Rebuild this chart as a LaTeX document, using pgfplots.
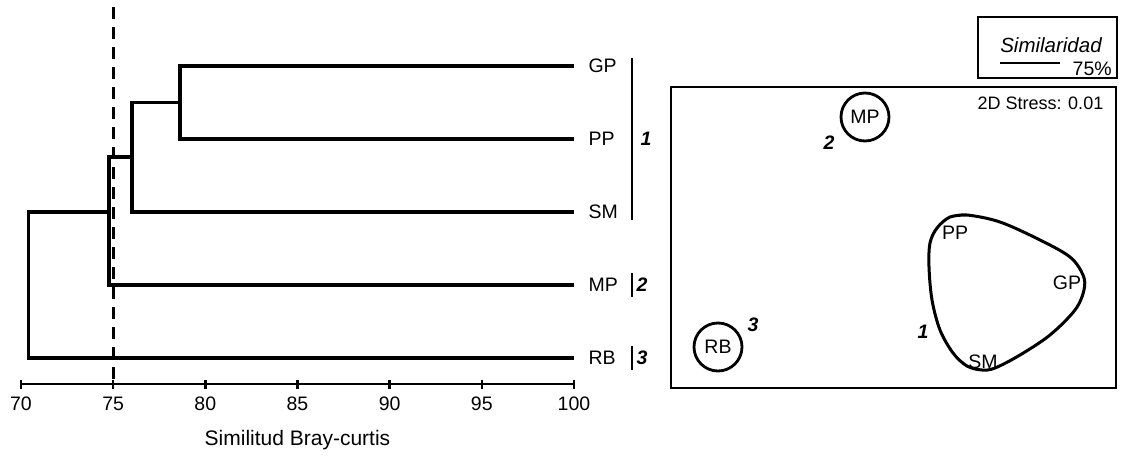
\documentclass[border=0pt]{standalone}
\usepackage{fontspec}
\setmainfont{Liberation Sans}
\usepackage{pgfplots}
\pgfplotsset{compat=1.18}
\newcommand{\fs}{\fontsize{19.5}{22}\selectfont}
\newcommand{\fsl}{\fontsize{21}{24}\selectfont}
\newcommand{\fss}{\fontsize{18}{21}\selectfont}
\begin{document}
\begin{tikzpicture}[font=\fs]
\path[use as bounding box] (0pt,0pt) rectangle (1121pt,461pt);
% ---------------- Dendrogram ----------------
\begin{axis}[
  at={(21pt,77pt)}, anchor=south west, scale only axis,
  width=553pt, height=384pt,
  xmin=70, xmax=100, ymin=77, ymax=461,
  axis x line=bottom, axis y line=none,
  x axis line style={-, line width=2.6pt},
  xtick={70,75,80,85,90,95,100},
  tick align=center, major tick length=9pt,
  every tick/.style={black, line width=2.6pt},
  xticklabel style={font=\fs, yshift=-5pt},
  /pgf/number format/assume math mode=true,
  xlabel={Similitud Bray-curtis},
  xlabel style={at={(axis description cs:0.5,0)}, anchor=center, yshift=-56pt, font=\fsl},
  clip=false,
]
\addplot[line width=3.3pt] coordinates {(100,395)(78.63,395)(78.63,322)(100,322)};
\addplot[line width=3.3pt] coordinates {(78.63,358.5)(76.02,358.5)(76.02,249)(100,249)};
\addplot[line width=3.3pt] coordinates {(76.02,304)(74.77,304)(74.77,176)(100,176)};
\addplot[line width=3.3pt] coordinates {(74.77,249)(70.42,249)(70.42,103)(100,103)};
\addplot[line width=3.1pt, dash pattern=on 12pt off 8pt] coordinates {(75,454)(75,74)};
% group bars
\addplot[line width=2.8pt] coordinates {(103.15,403)(103.15,241)};
\addplot[line width=2.8pt] coordinates {(103.15,188)(103.15,164)};
\addplot[line width=2.8pt] coordinates {(103.15,115)(103.15,91)};
\node[anchor=west, xshift=11pt] at (axis cs:100,395) {GP};
\node[anchor=west, xshift=11pt] at (axis cs:100,322) {PP};
\node[anchor=west, xshift=11pt] at (axis cs:100,249) {SM};
\node[anchor=west, xshift=11pt] at (axis cs:100,176) {MP};
\node[anchor=west, xshift=11pt] at (axis cs:100,103) {RB};
\node[anchor=west, xshift=5pt] at (axis cs:103.15,322) {\bfseries\itshape 1};
\node[anchor=west, xshift=1pt] at (axis cs:103.15,176) {\bfseries\itshape 2};
\node[anchor=west, xshift=1pt] at (axis cs:103.15,103) {\bfseries\itshape 3};
\end{axis}
% ---------------- NMDS ----------------
\begin{axis}[
  at={(671pt,73pt)}, anchor=south west, scale only axis,
  width=445pt, height=301pt,
  xmin=671, xmax=1116, ymin=73, ymax=374,
  ticks=none, line width=2.8pt, axis line style={line width=2.8pt},
  clip=false,
]
\addplot[smooth, tension=0.55, line width=3pt] coordinates {
 (950,244)(967,246)(1000,239)(1040,221)(1070,204)(1083,186)(1084,171)(1075,151)
 (1050,126)(1020,106)(995,93)(982,91)(967,95)(953,108)(940,131)(932,161)
 (929,194)(930,218)(937,233)(950,244)(967,246)};
\addplot[only marks, mark=o, mark size=24pt, mark options={line width=2.8pt},
  nodes near coords, point meta=explicit symbolic,
  every node near coord/.style={anchor=center, font=\fs, black}]
  coordinates {(865,344)[MP] (718,114)[RB]};
\addplot[only marks, mark=none,
  nodes near coords, point meta=explicit symbolic,
  every node near coord/.style={anchor=center, font=\fs, black}]
  coordinates {(955,228)[PP] (1067,178)[GP] (983,99)[SM]};
\node at (axis cs:923,129) {\bfseries\itshape 1};
\node at (axis cs:829,318) {\bfseries\itshape 2};
\node at (axis cs:753,136) {\bfseries\itshape 3};
\node[anchor=east, font=\fss] at (axis cs:1108,358) {2D Stress: 0.01};
\draw[line width=2.8pt] (axis cs:978,383) rectangle (axis cs:1117,444);
\node at (axis cs:1051,416) {\fontsize{20.5}{23}\selectfont\itshape Similaridad};
\draw[line width=2.8pt] (axis cs:1000,398) -- (axis cs:1060,398);
\node[anchor=west] at (axis cs:1068,392) {75\%};
\end{axis}
\end{tikzpicture}
\end{document}
